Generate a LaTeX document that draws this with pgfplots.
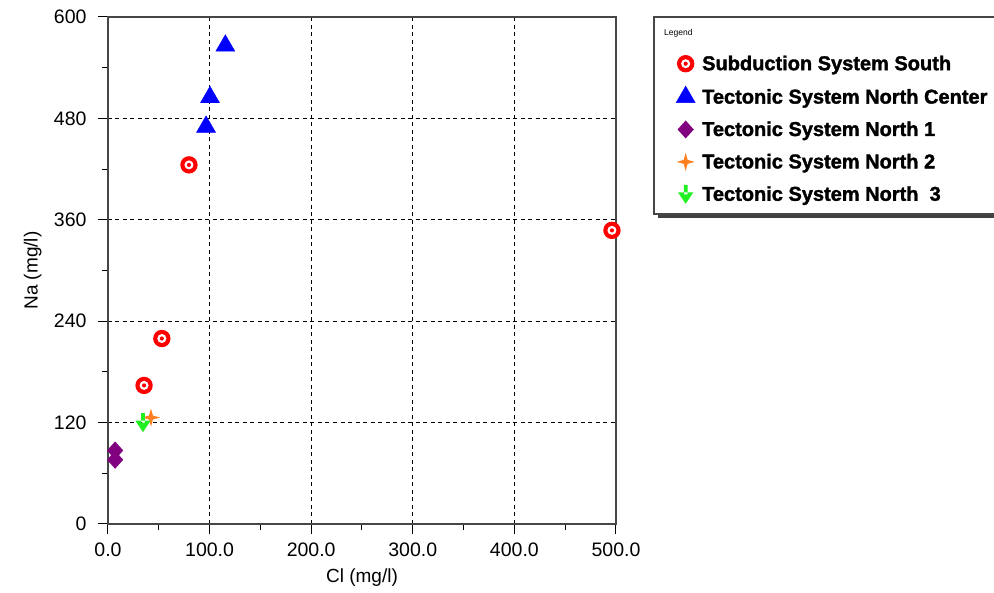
\documentclass[border=0pt]{standalone}
\usepackage{pgfplots}
\pgfplotsset{compat=1.18}
\usepackage{fontspec}
\setmainfont{Liberation Sans}
\newfontfamily\legfont[FakeBold=1.6]{Liberation Sans Bold}
\usetikzlibrary{plotmarks}

\definecolor{ptred}{RGB}{255,0,0}
\definecolor{ptblue}{RGB}{0,0,255}
\definecolor{ptpurple}{RGB}{128,0,128}
\definecolor{ptorange}{RGB}{255,128,32}
\definecolor{ptgreen}{RGB}{32,240,32}
\definecolor{framegray}{RGB}{70,70,70}

\pgfdeclareplotmark{target}{%
  \pgfpathcircle{\pgfpointorigin}{\pgfplotmarksize}%
  \pgfsetfillcolor{ptred}\pgfusepathqfill
  \pgfpathcircle{\pgfpointorigin}{0.52\pgfplotmarksize}%
  \pgfsetfillcolor{white}\pgfusepathqfill
  \pgfpathcircle{\pgfpointorigin}{0.24\pgfplotmarksize}%
  \pgfsetfillcolor{ptred}\pgfusepathqfill}

\pgfdeclareplotmark{star4}{%
  \pgfpathmoveto{\pgfqpoint{0pt}{\pgfplotmarksize}}%
  \pgfpathlineto{\pgfqpoint{0.22\pgfplotmarksize}{0.22\pgfplotmarksize}}%
  \pgfpathlineto{\pgfqpoint{\pgfplotmarksize}{0pt}}%
  \pgfpathlineto{\pgfqpoint{0.22\pgfplotmarksize}{-0.22\pgfplotmarksize}}%
  \pgfpathlineto{\pgfqpoint{0pt}{-\pgfplotmarksize}}%
  \pgfpathlineto{\pgfqpoint{-0.22\pgfplotmarksize}{-0.22\pgfplotmarksize}}%
  \pgfpathlineto{\pgfqpoint{-\pgfplotmarksize}{0pt}}%
  \pgfpathlineto{\pgfqpoint{-0.22\pgfplotmarksize}{0.22\pgfplotmarksize}}%
  \pgfpathclose\pgfusepathqfill}

\pgfdeclareplotmark{arrowdown}{%
  \pgfpathrectangle{\pgfqpoint{-0.2\pgfplotmarksize}{0pt}}{\pgfqpoint{0.4\pgfplotmarksize}{\pgfplotmarksize}}%
  \pgfpathmoveto{\pgfqpoint{-0.8\pgfplotmarksize}{0.2\pgfplotmarksize}}%
  \pgfpathlineto{\pgfqpoint{0.8\pgfplotmarksize}{0.2\pgfplotmarksize}}%
  \pgfpathlineto{\pgfqpoint{0pt}{-\pgfplotmarksize}}%
  \pgfpathclose\pgfusepathqfill}

\pgfdeclareplotmark{widediamond}{%
  \pgfpathmoveto{\pgfqpoint{0pt}{\pgfplotmarksize}}%
  \pgfpathlineto{\pgfqpoint{0.9\pgfplotmarksize}{0pt}}%
  \pgfpathlineto{\pgfqpoint{0pt}{-\pgfplotmarksize}}%
  \pgfpathlineto{\pgfqpoint{-0.9\pgfplotmarksize}{0pt}}%
  \pgfpathclose\pgfusepathqfill}

\begin{document}
\begin{tikzpicture}
\useasboundingbox (-108pt,-69pt) rectangle (886pt,524pt);
% legend frame with shadow
\fill[black!75] (550pt,306pt) rectangle (896pt,503pt);
\draw[framegray, line width=1.2pt, fill=white] (546pt,310pt) rectangle (892pt,507pt);
\node[anchor=west, inner sep=0pt, font=\fontsize{8.5}{9}\selectfont] at (556pt,491pt) {Legend};
\begin{axis}[
  at={(0pt,0pt)}, anchor=south west,
  scale only axis, width=508pt, height=507pt,
  xmin=0, xmax=500, ymin=0, ymax=600,
  xtick={0,100,...,500}, ytick={0,120,...,600},
  minor x tick num=1, minor y tick num=1,
  xtick pos=left, ytick pos=left, tick align=outside,
  major tick length=10pt, minor tick length=6pt,
  every tick/.style={black, line width=1pt},
  axis line style={framegray, line width=1.2pt},
  grid=major,
  major grid style={black, line width=0.9pt, dash pattern=on 4pt off 3.5pt},
  /pgf/number format/assume math mode=true,
  xticklabel style={yshift=-5pt, /pgf/number format/.cd, fixed, fixed zerofill, precision=1},
  yticklabel style={xshift=-8pt, /pgf/number format/.cd, fixed, precision=0},
  tick label style={font=\fontsize{19.5}{20}\selectfont},
  label style={font=\fontsize{19}{20}\selectfont},
  xlabel={Cl (mg/l)}, ylabel={Na (mg/l)},
  xlabel style={at={(axis description cs:0.5,-0.106)}, anchor=center},
  ylabel style={at={(axis description cs:-0.148,0.5)}, anchor=center},
  legend cell align=left,
  legend style={draw=none, fill=none, at={(axis description cs:1.118,0.928)}, anchor=north west,
    font=\fontsize{20}{22}\selectfont\legfont, row sep=12.4pt, column sep=5pt, inner sep=0pt,
    nodes={inner sep=2pt}},
]
\addplot[only marks, mark=target, mark size=8.7pt] coordinates {(79.7,425) (53,219.5) (35.5,164) (496,347.5)};
\addlegendentry{Subduction System South}
\addplot[only marks, mark=triangle*, mark size=11pt, color=ptblue] coordinates {(115.5,566) (100.4,505) (96.5,470)};
\addlegendentry{Tectonic System North Center}
\addplot[only marks, mark=widediamond, mark size=9pt, color=ptpurple] coordinates {(7,87) (7,76)};
\addlegendentry{Tectonic System North 1}
\addplot[only marks, mark=star4, mark size=9pt, color=ptorange] coordinates {(42.3,126)};
\addlegendentry{Tectonic System North 2}
\addplot[only marks, mark=arrowdown, mark size=9.5pt, color=ptgreen] coordinates {(34.4,120)};
\addlegendentry{Tectonic System North\ \ 3}
\end{axis}
\end{tikzpicture}
\end{document}
